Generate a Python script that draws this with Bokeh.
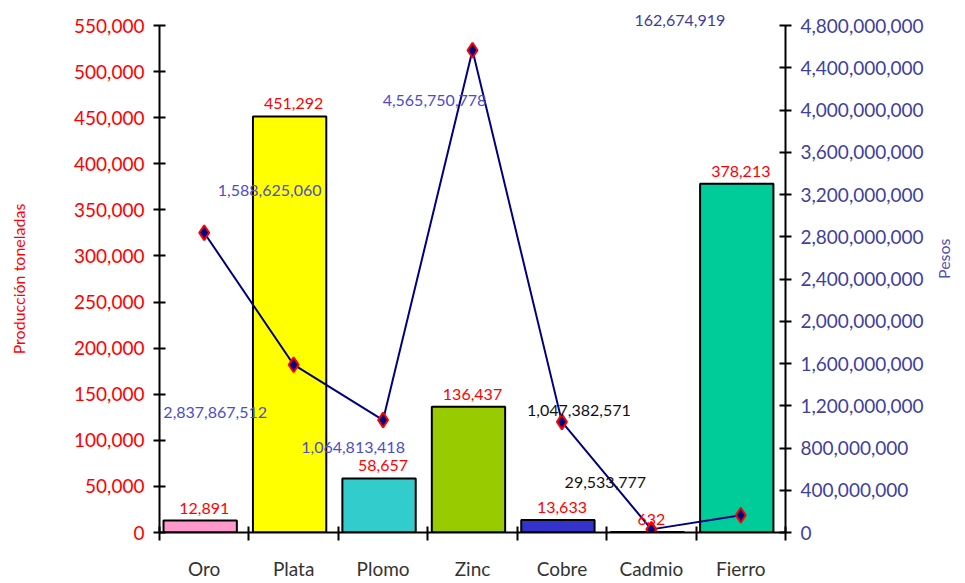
import math
from bokeh.plotting import figure
from bokeh.models import (Range1d, LinearAxis, FixedTicker, NumeralTickFormatter,
                          ColumnDataSource, LabelSet, Label, LinearScale, Title)
from bokeh.transform import dodge
from bokeh.core.properties import value
from bokeh.embed import file_html
from bokeh.resources import INLINE

# ---- data ----
categories = ["Oro", "Plata", "Plomo", "Zinc", "Cobre", "Cadmio", "Fierro"]
produccion_ton = [12891, 451292, 58657, 136437, 13633, 632, 378213]
pesos = [2837867512, 1588625060, 1064813418, 4565750778, 1047382571, 29533777, 162674919]
bar_colors = ["#FF99CC", "#FFFF00", "#33CCCC", "#99CC00", "#3333CC", "#993366", "#00CC99"]
left_ticks = list(range(0, 550001, 50000))
right_ticks = list(range(0, 4800000001, 400000000))

# label styling (offsets in px relative to each line point)
peso_lbl_dx = [11, -24, -30, -38, 17, -46, None]
peso_lbl_dy = [-180, 174, -27, -50, 11, 47, None]
peso_lbl_color = ["#4C4CCC", "#4C4CCC", "#4C4CCC", "#4C4CCC", "#111111", "#111111", "#3D3D99"]

FONT = "Lato"

n = len(categories)
centres = [i + 0.5 for i in range(n)]

p = figure(width=965, height=583, output_backend="svg", toolbar_location=None,
           x_range=Range1d(0, n), y_range=Range1d(0, 550000),
           x_axis_type=None, y_axis_type=None,
           min_border_left=159, min_border_right=177, min_border_top=25, min_border_bottom=51)
p.extra_y_ranges = {"pesos": Range1d(0, 4800000000)}
p.extra_y_scales = {"pesos": LinearScale()}
p.grid.visible = False
p.outline_line_color = None
p.background_fill_color = "white"

src = ColumnDataSource(dict(
    x=centres, cat=categories, prod=produccion_ton, pesos=pesos, color=bar_colors,
    prod_lbl=[f"{v:,}" for v in produccion_ton],
))

# bars
p.vbar(x=dodge("x", -0.045), top="prod", width=0.82, source=src,
       fill_color="color", line_color="black", line_width=2)

# line
p.line(x="x", y="pesos", source=src, y_range_name="pesos", line_color="#000080", line_width=2)
p.scatter(x="x", y="pesos", source=src, y_range_name="pesos", marker="diamond", size=15,
          fill_color="#000080", line_color="#FF0000", line_width=2)

# bar labels
p.add_layout(LabelSet(x="x", y="prod", text="prod_lbl", source=src, y_offset=7,
                      text_align="center", text_baseline="bottom", text_color="#FF0000",
                      text_font=value(FONT), text_font_size="16px"))
# line labels
for xc, v, dx, dy, c in zip(centres, pesos, peso_lbl_dx, peso_lbl_dy, peso_lbl_color):
    if dx is None:
        # this one sits above the plotting area: draw it in the top panel
        p.add_layout(Title(text=f"{v:,}", align="left", offset=475, standoff=0,
                           text_font=FONT, text_font_size="16px", text_font_style="normal",
                           text_color=c), "above")
        continue
    p.add_layout(Label(x=xc, y=v, y_range_name="pesos", text=f"{v:,}",
                       x_offset=dx, y_offset=dy, text_align="center", text_baseline="middle",
                       text_color=c, text_font=FONT, text_font_size="16px"))

# left axis
ax_l = LinearAxis(ticker=FixedTicker(ticks=left_ticks), formatter=NumeralTickFormatter(format="0,0"),
                  axis_label="Producción toneladas")
# right axis
ax_r = LinearAxis(y_range_name="pesos", ticker=FixedTicker(ticks=right_ticks),
                  formatter=NumeralTickFormatter(format="0,0"), axis_label="Pesos")
# bottom axis: labels at category centres, ticks at boundaries
ax_b = LinearAxis(ticker=FixedTicker(ticks=centres, minor_ticks=list(range(n + 1))),
                  major_label_overrides={c: name for c, name in zip(centres, categories)})

for ax, col in ((ax_l, "#FF0000"), (ax_r, "#3F3F9F"), (ax_b, "#000000")):
    ax.axis_line_width = 2
    ax.axis_line_color = "black"
    ax.major_tick_line_width = 2
    ax.major_tick_in = 6
    ax.major_tick_out = 6
    ax.minor_tick_line_color = None
    ax.major_label_text_font = FONT
    ax.major_label_text_font_size = "19px"
    ax.major_label_text_font_style = "normal"
    ax.major_label_text_color = col
    ax.axis_label_text_font = FONT
    ax.axis_label_text_font_size = "16px"
    ax.axis_label_text_font_style = "normal"
    ax.axis_label_text_color = col

ax_l.major_label_standoff = 9
ax_l.axis_label_standoff = 43
ax_r.major_label_standoff = 9
ax_r.axis_label_standoff = 17
ax_r.axis_label_text_color = "#5050B0"
ax_r.axis_label_orientation = math.pi / 2

ax_b.major_tick_line_color = None
ax_b.major_tick_in = 0
ax_b.major_tick_out = 0
ax_b.minor_tick_line_color = "black"
ax_b.minor_tick_line_width = 2
ax_b.minor_tick_in = 6
ax_b.minor_tick_out = 8
ax_b.major_label_standoff = 16
ax_b.major_label_text_font_size = "19px"
ax_b.major_label_text_color = "#333333"

p.add_layout(ax_l, "left")
p.add_layout(ax_r, "right")
p.add_layout(ax_b, "below")

open("out.html", "w").write(file_html(p, INLINE))
